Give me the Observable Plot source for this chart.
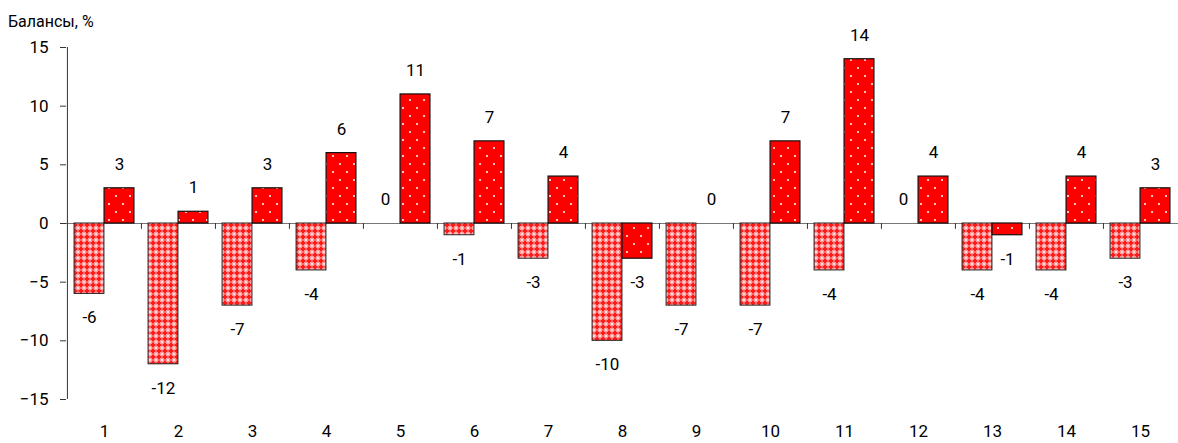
<!DOCTYPE html>
<html>
<head>
<meta charset="utf-8">
<script src="https://cdn.jsdelivr.net/npm/d3@7"></script>
<script src="https://cdn.jsdelivr.net/npm/@observablehq/plot@0.6"></script>
<style>
  html, body { margin: 0; padding: 0; background: #fff; }
  #wrap { position: relative; width: 1178px; height: 443px; }
  #title { position: absolute; left: 8px; top: 12px; font-family: Roboto, sans-serif; font-size: 16px; color: #000; }
  #chart svg { display: block; }
</style>
</head>
<body>
<div id="wrap">
<div id="chart"></div>
<div id="title">Балансы, %</div>
</div>
<script>
const categories = ["1","2","3","4","5","6","7","8","9","10","11","12","13","14","15"];
const seriesA = [-6, -12, -7, -4, 0, -1, -3, -10, -7, -7, -4, 0, -4, -4, -3];
const seriesB = [3, 1, 3, 6, 11, 7, 4, -3, 0, 7, 14, 4, -1, 4, 3];
const yTicks = [-15, -10, -5, 0, 5, 10, 15];

const W = 1178, ML = 66, MR = 0;
const step = (W - ML - MR) / categories.length;
const barW = 30;

const dataA = categories.map((c, i) => ({c, v: seriesA[i]}));
const dataB = categories.map((c, i) => ({c, v: seriesB[i]}));

const fontFamily = "Roboto, sans-serif";

const labelMarks = (data, dx) => [
  Plot.text(data.filter(d => d.v >= 0), {x: "c", y: "v", text: d => String(d.v), dx, dy: -24, fill: "#000", fontSize: 17}),
  Plot.text(data.filter(d => d.v < 0), {x: "c", y: "v", text: d => String(d.v), dx, dy: 24, fill: "#000", fontSize: 17})
];

const chart = Plot.plot({
  width: W, height: 443,
  marginLeft: ML, marginRight: MR, marginTop: 47, marginBottom: 44,
  style: {fontFamily, fontSize: "17px", color: "#000", background: "#fff"},
  x: {domain: categories, padding: 0, axis: null},
  y: {domain: [-15, 15], axis: null},
  marks: [
    Plot.ruleY([0], {stroke: "#777", strokeWidth: 1.2}),
    Plot.ruleX(categories.slice(1), {x: d => d, dx: -step / 2, y1: 0, y2: -0.5, stroke: "#333"}),
    Plot.barY(dataA.filter(d => d.v !== 0), {x: "c", y1: 0, y2: "v", insetLeft: step / 2 - barW, insetRight: step / 2, fill: "url(#patA)", stroke: "#222", strokeWidth: 1}),
    Plot.barY(dataB.filter(d => d.v !== 0), {x: "c", y1: 0, y2: "v", insetLeft: step / 2, insetRight: step / 2 - barW, fill: "url(#patB)", stroke: "#111", strokeWidth: 1.2}),
    ...labelMarks(dataA, -barW / 2),
    ...labelMarks(dataB, barW / 2),
    Plot.axisY({ticks: yTicks, label: null, tickSize: 6, tickPadding: 12, stroke: "#333", fill: "#000", fontSize: 17}),
    Plot.ruleX([categories[0]], {x: d => d, dx: -step / 2, y1: -15, y2: 15, stroke: "#333"}),
    Plot.axisX({anchor: "bottom", label: null, tickSize: 0, tickPadding: 25, fill: "#000", fontSize: 17})
  ]
});

const ns = "http://www.w3.org/2000/svg";
const defs = document.createElementNS(ns, "defs");
defs.innerHTML = `
  <pattern id="patA" patternUnits="userSpaceOnUse" width="6" height="6">
    <rect width="6" height="6" fill="#ff9a9a"/>
    <rect x="2" y="0.6" width="2" height="4.8" fill="#ff1a1a"/>
    <rect x="0.6" y="2" width="4.8" height="2" fill="#ff1a1a"/>
    <rect x="-0.8" y="-0.8" width="1.6" height="1.6" fill="#fff"/>
    <rect x="5.2" y="-0.8" width="1.6" height="1.6" fill="#fff"/>
    <rect x="-0.8" y="5.2" width="1.6" height="1.6" fill="#fff"/>
    <rect x="5.2" y="5.2" width="1.6" height="1.6" fill="#fff"/>
  </pattern>
  <pattern id="patB" patternUnits="userSpaceOnUse" width="14" height="16">
    <rect width="14" height="16" fill="#ff0000"/>
    <circle cx="4" cy="4" r="1" fill="#fff"/>
    <circle cx="11" cy="12" r="1" fill="#fff"/>
  </pattern>`;
chart.insertBefore(defs, chart.firstChild);
document.getElementById("chart").appendChild(chart);
</script>
</body>
</html>
